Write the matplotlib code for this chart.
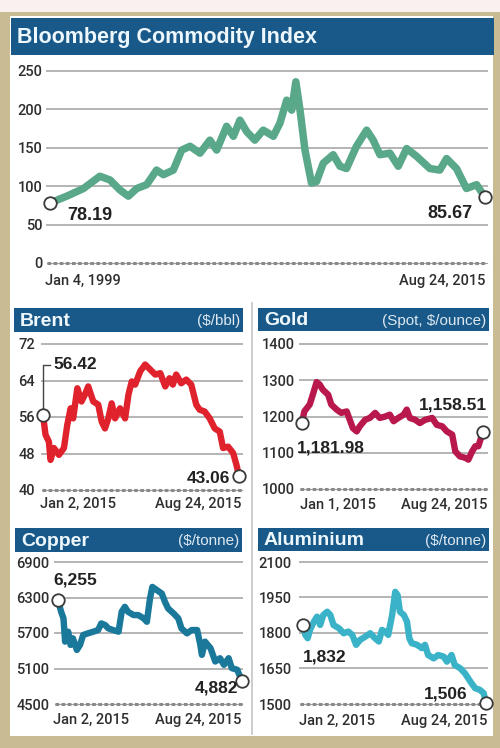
import matplotlib
matplotlib.use("Agg")
import matplotlib.pyplot as plt
from matplotlib.patches import Rectangle
from matplotlib.lines import Line2D
from matplotlib import font_manager

# ---------------- data ----------------
bcom_years = [1999.0, 1999.64, 2000.28, 2000.91, 2001.30, 2001.68, 2002.0, 2002.32, 2002.70,
              2003.08, 2003.34, 2003.72, 2004.04, 2004.36, 2004.74, 2005.12, 2005.38, 2005.76,
              2006.02, 2006.27, 2006.53, 2006.84, 2007.16, 2007.55, 2007.80, 2008.06, 2008.25,
              2008.41, 2008.57, 2008.76, 2009.01, 2009.20, 2009.46, 2009.84, 2010.10, 2010.35,
              2010.73, 2011.12, 2011.37, 2011.63, 2012.01, 2012.33, 2012.65, 2013.03, 2013.54,
              2013.92, 2014.18, 2014.56, 2014.94, 2015.33, 2015.65]
bcom_values = [78.19, 87, 97, 113, 108, 95, 87, 97, 102,
               121, 115, 121, 147, 152, 143, 160, 147, 178,
               165, 186, 171, 160, 173, 165, 182, 212, 199,
               236, 199, 147, 104, 106, 130, 141, 126, 123,
               152, 173, 160, 141, 143, 126, 149, 139, 123,
               121, 136, 123, 97, 102, 85.67]
bcom_ticks = [0, 50, 100, 150, 200, 250]

brent_days = [0, 3, 7, 9, 13, 19, 25, 29, 33, 36, 41, 46, 50, 54, 60, 66, 70, 74, 78, 82, 86,
              92, 98, 102, 106, 110, 116, 122, 128, 134, 140, 146, 151, 155, 159, 165, 171, 177,
              183, 187, 193, 199, 205, 211, 215, 221, 227, 231, 234]
brent_values = [56.42, 52.1, 50.6, 46.6, 49.2, 47.7, 49.2, 54.3, 57.9, 55.7, 62.3, 59.4, 60.9,
                62.7, 59.4, 58.7, 55.0, 53.5, 55.7, 59.0, 55.7, 57.9, 55.7, 60.9, 63.8, 63.1,
                66.0, 67.5, 66.4, 65.3, 65.6, 62.7, 64.5, 63.1, 65.3, 63.4, 64.2, 63.1, 58.7,
                57.6, 57.2, 55.7, 53.5, 52.8, 49.2, 49.5, 48.1, 45.5, 43.06]
brent_ticks = [40, 48, 56, 64, 72]

gold_days = [0, 3, 10, 14, 19, 23, 27, 34, 38, 45, 51, 58, 62, 66, 71, 75, 82, 88, 95, 101,
             108, 114, 119, 125, 132, 136, 140, 147, 153, 160, 169, 175, 182, 188, 195, 199,
             205, 212, 216, 221, 225, 229, 235]
gold_values = [1181.98, 1214, 1233, 1260, 1295, 1288, 1274, 1260, 1233, 1219, 1210, 1214, 1191,
               1168, 1159, 1173, 1191, 1196, 1210, 1196, 1200, 1205, 1187, 1196, 1205, 1219,
               1196, 1191, 1182, 1191, 1196, 1177, 1173, 1159, 1150, 1104, 1090, 1086, 1081,
               1104, 1118, 1118, 1158.51]
gold_ticks = [1000, 1100, 1200, 1300, 1400]

copper_days = [0, 4, 7, 9, 13, 16, 19, 24, 28, 32, 38, 45, 51, 55, 60, 64, 70, 77, 81, 85, 89,
               96, 102, 109, 113, 117, 120, 126, 132, 136, 140, 147, 153, 157, 164, 170, 177,
               181, 183, 187, 194, 200, 206, 211, 217, 221, 228, 234]
copper_values = [6255, 6059, 5947, 5554, 5722, 5498, 5610, 5414, 5498, 5666, 5694, 5722, 5750,
                 5862, 5834, 5778, 5750, 5722, 6059, 6143, 6059, 6003, 6003, 5947, 5890, 6283,
                 6479, 6423, 6367, 6227, 6115, 6031, 5947, 5778, 5694, 5750, 5750, 5498, 5330,
                 5554, 5442, 5218, 5274, 5162, 5274, 5106, 5078, 4882]
copper_ticks = [4500, 5100, 5700, 6300, 6900]

alu_days = [0, 3, 6, 9, 14, 18, 22, 26, 31, 35, 39, 46, 52, 58, 63, 68, 73, 80, 86, 92, 97,
            101, 105, 109, 114, 118, 121, 124, 129, 133, 136, 139, 146, 152, 156, 160, 167,
            173, 180, 184, 190, 194, 201, 207, 214, 220, 226, 231, 234]
alu_values = [1832, 1792, 1778, 1813, 1848, 1869, 1834, 1876, 1890, 1876, 1834, 1820, 1799,
              1806, 1792, 1750, 1771, 1785, 1799, 1778, 1764, 1813, 1806, 1792, 1876, 1974,
              1960, 1890, 1876, 1848, 1778, 1757, 1750, 1736, 1750, 1707, 1693, 1707, 1700,
              1679, 1707, 1665, 1651, 1630, 1595, 1567, 1560, 1546, 1506]
alu_ticks = [1500, 1650, 1800, 1950, 2100]

# ---------------- style ----------------
W, H = 500, 748
FRAME = "#c9bb92"
HEADER = "#18598a"
GRID = "#b4b4b4"
TXT = "#2e2e2e"
names = {f.name for f in font_manager.fontManager.ttflist}
TICKFONT = "Roboto" if "Roboto" in names else "Liberation Sans"
BOLDFONT = "Liberation Sans"

fig = plt.figure(figsize=(W / 100, H / 100), dpi=100)
fig.patch.set_facecolor(FRAME)


def frect(x0, y0, x1, y1):
    return [x0 / W, 1 - y1 / H, (x1 - x0) / W, (y1 - y0) / H]


def box(x0, y0, x1, y1, color, z=-2):
    fig.patches.append(Rectangle((x0 / W, 1 - y1 / H), (x1 - x0) / W, (y1 - y0) / H,
                                 transform=fig.transFigure, facecolor=color,
                                 edgecolor="none", zorder=z))


def ftext(x, y, s, **kw):
    fig.text(x / W, 1 - y / H, s, **kw)


box(0, 0, W, 12, "#f8f1ef")
box(10, 16, 493, 736, "white")
fig.lines.append(Line2D([252 / W, 252 / W], [1 - 303 / H, 1 - 734 / H],
                        transform=fig.transFigure, color="#c4c4c4", lw=1.2, zorder=-1))


def header(x0, y0, x1, y1, title, unit, tsize):
    box(x0, y0, x1, y1, HEADER, z=-1)
    yc = (y0 + y1) / 2
    ftext(x0 + 6, yc + 1, title, color="#eef7fb", fontsize=tsize, fontweight="bold",
          family=BOLDFONT, ha="left", va="center")
    if unit:
        ftext(x1 - 3, yc + 1, unit, color="#dde8f0", fontsize=11, family=BOLDFONT,
              ha="right", va="center")


def panel(px, xs, ys, color, ticks, xlim, lw, pad, tsize):
    ax = fig.add_axes(frect(*px))
    ax.set_facecolor("none")
    ax.set_zorder(1)
    for s in ax.spines.values():
        s.set_visible(False)
    ax.set_xlim(xlim)
    ax.set_ylim(ticks[0], ticks[-1])
    ax.set_xticks([])
    ax.set_yticks(ticks)
    ax.set_yticklabels([str(t) for t in ticks], family=TICKFONT, fontweight="medium",
                       color=TXT, fontsize=tsize)
    ax.tick_params(axis="y", length=0, pad=pad)
    for t in ticks[1:]:
        ax.add_line(Line2D(list(xlim), [t, t], color=GRID, lw=1.4, zorder=1,
                           clip_on=False))
    ax.add_line(Line2D(list(xlim), [ticks[0], ticks[0]], color="#a0a0a0", lw=0.8,
                       zorder=1, clip_on=False))
    ax.add_line(Line2D(list(xlim), [ticks[0], ticks[0]], color="#8a8a8a", lw=2.2,
                       ls=(0, (1.2, 0.8)), zorder=1, clip_on=False))
    ax.plot(xs, ys, color=color, lw=lw, solid_joinstyle="round", solid_capstyle="round",
            zorder=3, clip_on=False)
    ax.plot([xs[0], xs[-1]], [ys[0], ys[-1]], marker="o", ms=9, mfc="white", mec="#3a3a3a",
            mew=1.3, zorder=4, clip_on=False, linestyle="none")
    return ax


def vlabel(ax, x, y, s, ha, size):
    ax.text(x, y, s, ha=ha, va="center", fontsize=size, fontweight="bold",
            family=BOLDFONT, color="#222222", zorder=5)


def xlabels(x0, x1, y, left, right):
    ftext(x0, y, left, ha="left", va="center", fontsize=10.5, family=TICKFONT,
          fontweight="medium", color=TXT)
    ftext(x1, y, right, ha="right", va="center", fontsize=10.5, family=TICKFONT,
          fontweight="medium", color=TXT)


# ---------------- top: Bloomberg Commodity Index ----------------
header(11, 18, 494, 55, "Bloomberg Commodity Index", None, 15.5)
ax0 = panel((47, 71, 487, 263), bcom_years, bcom_values, "#5aa88a", bcom_ticks,
            (1998.885, 2015.727), 5.4, 3.5, 10.5)
vlabel(ax0, 1999.65, 62, "78.19", "left", 13)
vlabel(ax0, 2015.19, 64, "85.67", "right", 13)
xlabels(45, 485, 281, "Jan 4, 1999", "Aug 24, 2015")

# ---------------- Brent ----------------
header(14, 308, 243, 332, "Brent", "($/bbl)", 14)
ax1 = panel((42, 344, 242, 490), brent_days, brent_values, "#e0222d", brent_ticks,
            (-1.2, 237.6), 4.6, 5, 10.5)
ax1.plot([0, 0, 8.4], [brent_values[0] + 1.2, 67.4, 67.4], color="#444444", lw=1.0,
         zorder=2, clip_on=False)
vlabel(ax1, 12, 67.4, "56.42", "left", 12.5)
vlabel(ax1, 223, 42.6, "43.06", "right", 12.5)
xlabels(40, 241, 504, "Jan 2, 2015", "Aug 24, 2015")

# ---------------- Gold ----------------
header(258, 308, 489, 331, "Gold", "(Spot, $/ounce)", 14)
ax2 = panel((300, 344, 487, 489), gold_days, gold_values, "#b8184c", gold_ticks,
            (-2.6, 240.2), 4.6, 4, 10.5)
vlabel(ax2, -6.5, 1113, "1,181.98", "left", 12.5)
vlabel(ax2, 240, 1232, "1,158.51", "right", 12.5)
xlabels(300, 487, 505, "Jan 1, 2015", "Aug 24, 2015")

# ---------------- Copper ----------------
header(15, 528, 242, 552, "Copper", "($/tonne)", 14)
ax3 = panel((55, 562, 242, 704), copper_days, copper_values, "#1a799b", copper_ticks,
            (-3.8, 234.0), 4.6, 4, 10.5)
vlabel(ax3, -6.4, 6596, "6,255", "left", 12.5)
vlabel(ax3, 229, 4770, "4,882", "right", 12.5)
xlabels(53, 241, 720, "Jan 2, 2015", "Aug 24, 2015")

# ---------------- Aluminium ----------------
header(258, 528, 489, 551, "Aluminium", "($/tonne)", 14)
ax4 = panel((300, 562, 487, 704), alu_days, alu_values, "#3ab3c8", alu_ticks,
            (-3.8, 235.3), 4.6, 6, 10.5)
vlabel(ax4, 0, 1699, "1,832", "left", 12.5)
vlabel(ax4, 211, 1542, "1,506", "right", 12.5)
xlabels(299, 487, 721, "Jan 2, 2015", "Aug 24, 2015")

fig.savefig("out.png", dpi=100, facecolor=fig.get_facecolor())
